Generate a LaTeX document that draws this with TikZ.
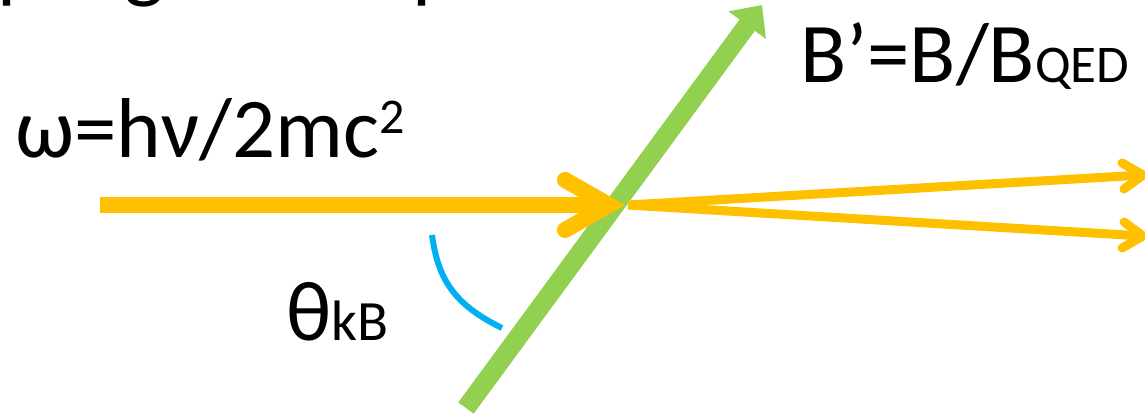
\documentclass[tikz,border=0pt]{standalone}
\usepackage{fontspec}
\setmainfont{Carlito}
\usetikzlibrary{arrows.meta,calc}
\definecolor{beamyellow}{HTML}{FFC000}
\definecolor{fieldgreen}{HTML}{92D050}
\definecolor{anglecyan}{HTML}{00B0F0}
\begin{document}
\begin{tikzpicture}[x=1pt,y=-1pt,
  bigtext/.style={inner sep=0pt,outer sep=0pt,anchor=base west,font=\fontsize{85}{100}\selectfont},
  photon/.style={draw=beamyellow,line width=16pt,line cap=butt},
  outphoton/.style={draw=beamyellow,line width=9pt,line cap=butt},
  chevron/.style={draw=beamyellow,line cap=round,line join=miter},
  fieldline/.style={draw=fieldgreen,line width=19pt,line cap=butt,-{Triangle[length=25pt,width=45pt]}},
  anglearc/.style={draw=anglecyan,line width=6pt,line cap=butt}]
\useasboundingbox (0,0) rectangle (1145,415);
\fill[white] (0,0) rectangle (1145,415);
% clipped fragments of a text line above the picture
\begin{scope}
\clip (0,0) rectangle (1145,415);
\node[bigtext] (t1) at (-2,-7) {p};
\node[bigtext] (t2) at (124,-7) {g};
\node[bigtext] (t3) at (412,-7) {p};
\end{scope}
% coordinates
\coordinate (G1) at (466,408);
\coordinate (G2) at (762,5);
\coordinate (Y0) at (100,205);
\coordinate (P) at (609,205);
\coordinate (PA) at (565,180);
\coordinate (PB) at (565,230);
\coordinate (S) at (628,205);
\coordinate (A1) at (1143,175);
\coordinate (A1a) at (1122,163);
\coordinate (A1b) at (1124,189);
\coordinate (A2) at (1143,236);
\coordinate (A2a) at (1124,222);
\coordinate (A2b) at (1122,248);
\coordinate (B1) at (432,235);
\coordinate (B2) at (502,328);
% magnetic field
\draw[fieldline] (G1) -- (G2);
% incoming photon
\draw[photon] (Y0) -- (P);
\draw[chevron,line width=16pt] (PA) -- (P) -- (PB);
% outgoing photons
\draw[outphoton] (S) -- (A1);
\draw[chevron,line width=9pt] (A1a) -- (A1) -- (A1b);
\draw[outphoton] (S) -- (A2);
\draw[chevron,line width=9pt] (A2a) -- (A2) -- (A2b);
% angle
\draw[anglearc] (B1) .. controls (438,280) and (455,305) .. (B2);
% labels
\node[bigtext] (omega) at (15,157) {ω=hν/2mc\raisebox{24pt}{\fontsize{50}{58}\selectfont 2}};
\node[bigtext] (bfield) at (800,82) {B’=B/B{\fontsize{53}{62}\selectfont QED}};
\node[bigtext] (theta) at (286,340) {θ{\fontsize{57}{66}\selectfont kB}};
\end{tikzpicture}
\end{document}
